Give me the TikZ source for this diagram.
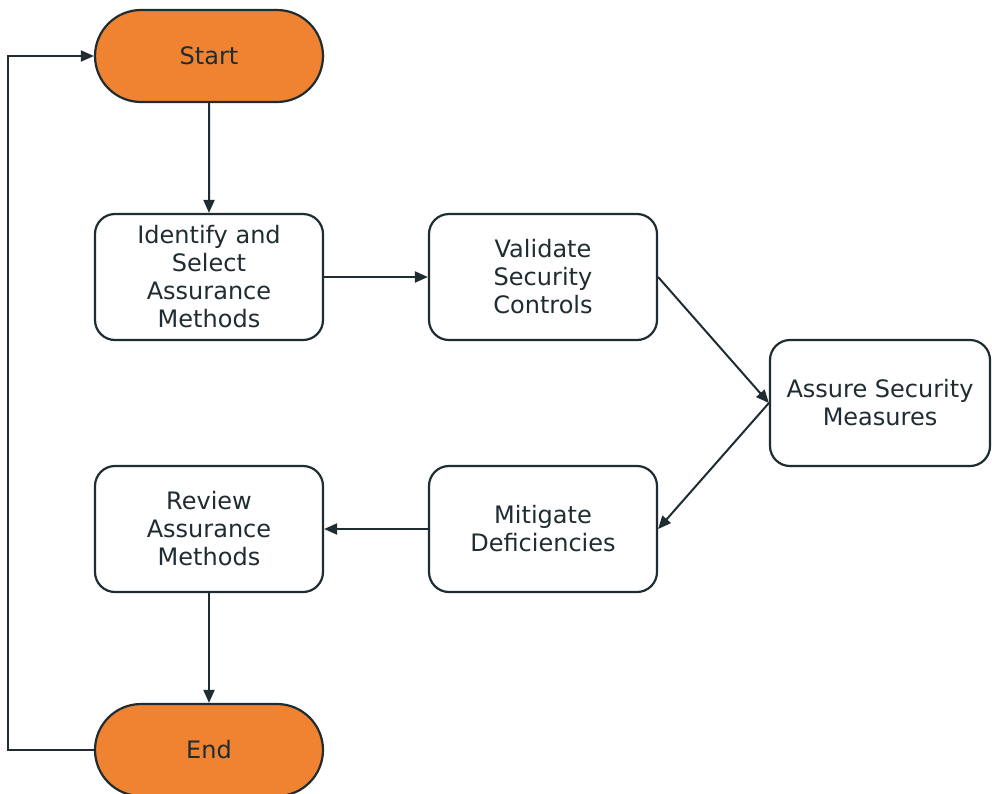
\documentclass[tikz,border=0pt]{standalone}
\usepackage{fontspec}
\setmainfont{DejaVu Sans}
\usetikzlibrary{arrows.meta,shapes.misc}
\definecolor{ink}{HTML}{1F2C31}
\definecolor{term}{HTML}{EF8331}
\tikzset{
  base/.style={draw=ink, line width=2.2pt, text=ink, align=center,
    font=\fontsize{24}{28}\selectfont, inner sep=0pt},
  terminal/.style={base, rounded rectangle, fill=term,
    minimum width=228pt, minimum height=92pt},
  process/.style={base, rectangle, rounded corners=20pt, fill=white,
    minimum width=228pt, minimum height=126pt},
  flow/.style={draw=ink, line width=2pt, line join=miter,
    -{Triangle[length=13pt,width=11pt]}},
  link/.style={draw=ink, line width=2pt, line join=miter}
}
\begin{document}
\begin{tikzpicture}[x=1pt,y=-1pt]
  \useasboundingbox (0,0) rectangle (992,793);
  \node[terminal] (start) at (209,56) {Start};
  \node[process] (identify) at (209,277) {Identify and\\Select\\Assurance\\Methods};
  \node[process] (validate) at (543,277) {Validate\\Security\\Controls};
  \node[process, minimum width=220pt] (assure) at (880,403) {Assure Security\\Measures};
  \node[process] (mitigate) at (543,529) {Mitigate\\Deficiencies};
  \node[process] (review) at (209,529) {Review\\Assurance\\Methods};
  \node[terminal] (end) at (209,750) {End};
  \coordinate (loopb) at (8,750);
  \coordinate (loopt) at (8,56);

  \draw[flow] (start) -- (identify);
  \draw[flow] (identify) -- (validate);
  \draw[flow] (validate.east) -- (assure.west);
  \draw[flow] (assure.west) -- (mitigate.east);
  \draw[flow] (mitigate) -- (review);
  \draw[flow] (review) -- (end);
  \draw[flow] (end.west) -- (loopb) -- (loopt) -- (start.west);
\end{tikzpicture}
\end{document}
